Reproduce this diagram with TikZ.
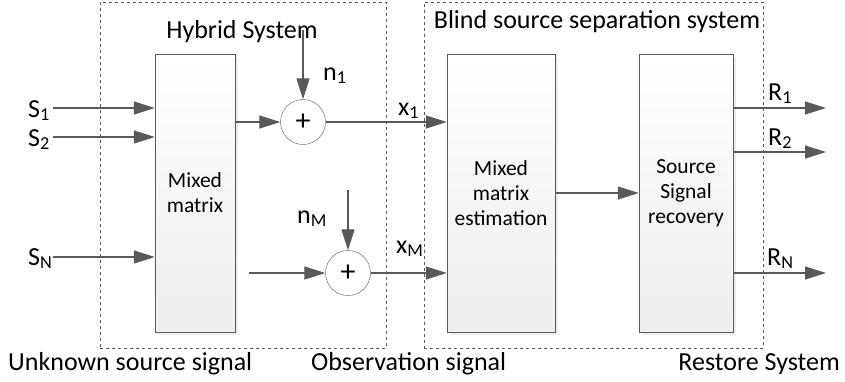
\documentclass[tikz,border=0pt]{standalone}
\usepackage{fontspec}
\setmainfont{Carlito}
\usetikzlibrary{positioning, arrows.meta, shadows}
\definecolor{linegray}{RGB}{89,89,89}
\tikzstyle{block} = [draw=linegray, rectangle, top color=white, bottom color=gray!14, minimum height=278pt, align=center, font=\fontsize{21.5}{25}\selectfont, drop shadow={shadow xshift=3pt, shadow yshift=-3pt, fill=gray!30}]
\tikzstyle{adder} = [draw=linegray, circle, fill=white, minimum size=45pt, inner sep=0pt, font=\fontsize{30}{30}\selectfont]
\tikzstyle{frame} = [draw=linegray, dashed, rectangle, minimum height=346pt, thin]
\tikzstyle{lbl} = [inner sep=0pt, anchor=base west, font=\fontsize{26}{28}\selectfont]
\tikzstyle{sig} = [draw=linegray, line width=1.3pt, -{Triangle[length=21pt, width=13pt]}]

\begin{document}
\begin{tikzpicture}[x=1pt, y=-1pt, >=Stealth]
		\useasboundingbox (0,0) rectangle (845,381);
		
		% frames
		\node[frame, minimum width=286pt] (hybrid) at (243,175) {};
		\node[frame, minimum width=339pt] (bss) at (593.5,175) {};
		\node[lbl, anchor=base] (hybridtitle) at (242,38) {Hybrid System};
		\node[lbl, anchor=base] (bsstitle) at (597,28) {Blind source separation system};
		
		% blocks
		\node[block, minimum width=80pt] (mixed) at (195,193) {Mixed\\matrix};
		\node[block, minimum width=108pt] (estim) at (501,193) {Mixed\\matrix\\estimation};
		\node[block, minimum width=94pt] (recov) at (686,193) {Source\\Signal\\recovery};
		
		% adders
		\node[adder] (sum1) at (303,122) {+};
		\node[adder] (sum2) at (348,273) {+};
		
		% free ends
		\coordinate (s1) at (53,108);
		\coordinate (s2) at (53,137);
		\coordinate (sn) at (53,257);
		\coordinate (noise1) at (303,30);
		\coordinate (noisem) at (348,190);
		\coordinate (mixm) at (249,273);
		\coordinate (r1) at (826,108);
		\coordinate (r2) at (826,152);
		\coordinate (rn) at (826,273);
		
		% labels
		\node[lbl] (s1lbl) at (28,117) {S\textsubscript{1}};
		\node[lbl] (s2lbl) at (28,146) {S\textsubscript{2}};
		\node[lbl] (snlbl) at (28,265) {S\textsubscript{N}};
		\node[lbl] (n1lbl) at (323,80) {n\textsubscript{1}};
		\node[lbl] (nmlbl) at (297,223) {n\textsubscript{M}};
		\node[lbl] (x1lbl) at (398,115) {x\textsubscript{1}};
		\node[lbl] (xmlbl) at (396,253) {x\textsubscript{M}};
		\node[lbl] (r1lbl) at (768,100) {R\textsubscript{1}};
		\node[lbl] (r2lbl) at (768,145) {R\textsubscript{2}};
		\node[lbl] (rnlbl) at (767,265) {R\textsubscript{N}};
		\node[lbl] (unknown) at (8,370) {Unknown source signal};
		\node[lbl] (observ) at (311,370) {Observation signal};
		\node[lbl, anchor=base east] (restore) at (840,370) {Restore System};
		
		% connections
		\draw [sig] (s1) -- (s1 -| mixed.west);
		\draw [sig] (s2) -- (s2 -| mixed.west);
		\draw [sig] (sn) -- (sn -| mixed.west);
		\draw [sig] (mixed.east |- sum1) -- (sum1);
		\draw [sig] (mixm) -- (sum2);
		\draw [sig] (noise1) -- (sum1);
		\draw [sig] (noisem) -- (sum2);
		\draw [sig] (sum1) -- (sum1 -| estim.west);
		\draw [sig] (sum2) -- (sum2 -| estim.west);
		\draw [sig] (estim) -- (recov);
		\draw [sig] (r1 -| recov.east) -- (r1);
		\draw [sig] (r2 -| recov.east) -- (r2);
		\draw [sig] (rn -| recov.east) -- (rn);
		
	\end{tikzpicture}
\end{document}
